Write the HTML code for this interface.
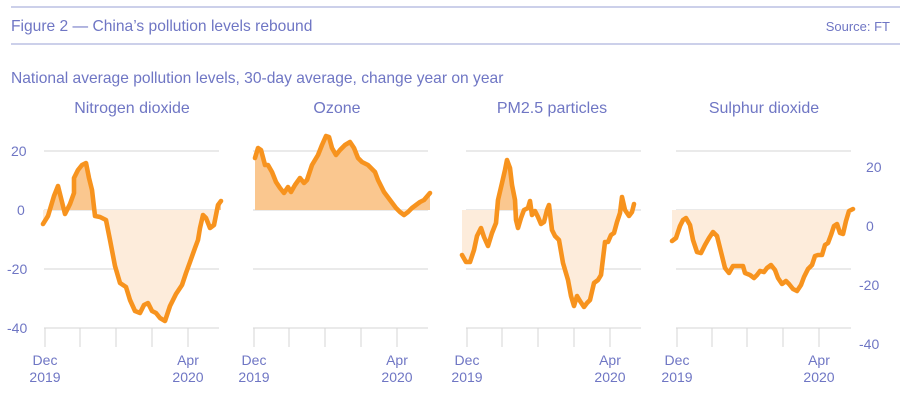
<!DOCTYPE html>
<html><head><meta charset="utf-8"><style>
body{margin:0;background:#fff;width:900px;height:404px;overflow:hidden}
svg{display:block;font-family:"Liberation Sans",sans-serif}
text{fill:#6f76c4}
</style></head><body>
<svg width="900" height="404" viewBox="0 0 900 404">
<defs>
<clipPath id="ab"><rect x="0" y="0" width="900" height="210"/></clipPath>
<clipPath id="be"><rect x="0" y="210" width="900" height="200"/></clipPath>
</defs>
<line x1="11" y1="7" x2="900" y2="7" stroke="#9aa0d6" stroke-width="1"/>
<line x1="11" y1="44" x2="900" y2="44" stroke="#9aa0d6" stroke-width="1"/>
<text x="11" y="31" font-size="15.6">Figure 2 — China’s pollution levels rebound</text>
<text x="890" y="31" font-size="13" text-anchor="end">Source: FT</text>
<text x="11" y="83" font-size="15.6">National average pollution levels, 30-day average, change year on year</text>
<g font-size="16" text-anchor="middle">
<text x="132" y="113">Nitrogen dioxide</text>
<text x="337" y="113">Ozone</text>
<text x="552" y="113">PM2.5 particles</text>
<text x="764" y="113">Sulphur dioxide</text>
</g>
<g stroke="#d6d6d6" stroke-width="1">
<line x1="44" y1="151" x2="219" y2="151"/><line x1="44" y1="210" x2="219" y2="210"/><line x1="44" y1="269" x2="219" y2="269"/><line x1="44" y1="328" x2="219" y2="328"/>
<line x1="253" y1="151" x2="428" y2="151"/><line x1="253" y1="210" x2="428" y2="210"/><line x1="253" y1="269" x2="428" y2="269"/><line x1="253" y1="328" x2="428" y2="328"/>
<line x1="466" y1="151" x2="641" y2="151"/><line x1="466" y1="210" x2="641" y2="210"/><line x1="466" y1="269" x2="641" y2="269"/><line x1="466" y1="328" x2="641" y2="328"/>
<line x1="676" y1="151" x2="851" y2="151"/><line x1="676" y1="210" x2="851" y2="210"/><line x1="676" y1="269" x2="851" y2="269"/><line x1="676" y1="328" x2="851" y2="328"/>
<path d="M45 328V347M80 328V347M116 328V347M152 328V347M188 328V347M254 328V347M289 328V347M325 328V347M361 328V347M397 328V347M467 328V347M502 328V347M538 328V347M574 328V347M610 328V347M677 328V347M712 328V347M747 328V347M783 328V347M819 328V347"/>
</g>
<g font-size="14">
<text x="11" y="156">20</text><text x="17" y="215">0</text><text x="7" y="274">-20</text><text x="7" y="333">-40</text>
<text x="866" y="172">20</text><text x="866" y="231">0</text><text x="859" y="290">-20</text><text x="859" y="349">-40</text>
</g>
<g font-size="14" text-anchor="middle">
<text x="45" y="365">Dec</text><text x="45" y="382">2019</text><text x="188" y="365">Apr</text><text x="188" y="382">2020</text>
<text x="254" y="365">Dec</text><text x="254" y="382">2019</text><text x="397" y="365">Apr</text><text x="397" y="382">2020</text>
<text x="467" y="365">Dec</text><text x="467" y="382">2019</text><text x="610" y="365">Apr</text><text x="610" y="382">2020</text>
<text x="677" y="365">Dec</text><text x="677" y="382">2019</text><text x="819" y="365">Apr</text><text x="819" y="382">2020</text>
</g>
<g id="series" fill="none" stroke="#f7931e" stroke-width="4.6" stroke-linejoin="round" stroke-linecap="round">
</g>
<script>
var S=[
[[43,224],[48,216],[51,206],[54,196],[58,186],[61,198],[65,214],[70,204],[74,193],[74,178],[78,170],[82,165],[86,163],[89,178],[92,190],[95,216],[100,217],[106,220],[110,240],[115,266],[120,283],[126,287],[130,300],[135,311],[140,313],[144,305],[148,303],[152,311],[156,313],[160,318],[165,321],[170,306],[176,294],[182,285],[186,273],[190,262],[195,248],[198,240],[200,228],[203,215],[206,218],[210,228],[214,225],[218,205],[221,201]],
[[255,158],[258,148],[261,150],[265,165],[268,165],[272,172],[276,182],[280,188],[284,193],[288,187],[291,192],[295,185],[300,178],[304,183],[307,180],[312,165],[318,155],[322,145],[326,136],[329,137],[332,148],[336,155],[340,150],[345,145],[350,142],[354,148],[358,158],[362,162],[368,165],[375,172],[378,180],[384,192],[390,200],[396,208],[400,212],[404,215],[408,212],[412,208],[416,205],[420,202],[424,200],[430,193]],
[[462,255],[466,262],[470,262],[474,250],[477,236],[481,228],[484,237],[488,246],[492,233],[496,223],[498,200],[502,183],[505,170],[507,160],[510,168],[512,185],[515,200],[516,220],[518,228],[521,218],[524,210],[528,208],[530,201],[532,215],[535,211],[538,217],[541,224],[544,222],[547,210],[549,205],[552,230],[555,236],[559,240],[563,263],[568,280],[571,296],[574,306],[577,296],[580,301],[584,307],[587,303],[590,300],[594,283],[598,280],[601,275],[605,242],[608,242],[611,235],[614,233],[617,222],[620,213],[622,197],[625,210],[629,216],[632,212],[634,204]],
[[672,241],[676,238],[680,226],[683,220],[686,218],[690,225],[693,240],[697,252],[701,253],[705,245],[709,238],[713,232],[717,236],[721,252],[725,268],[729,273],[733,266],[739,266],[743,266],[745,273],[750,275],[754,278],[757,275],[760,271],[764,272],[767,268],[771,265],[775,270],[778,278],[782,284],[786,281],[789,284],[793,289],[797,291],[801,285],[804,277],[808,269],[812,265],[815,256],[818,255],[822,255],[825,245],[828,243],[831,235],[834,226],[837,224],[840,233],[843,234],[846,221],[849,211],[853,209]]];
var NS="http://www.w3.org/2000/svg",g=document.getElementById("series"),svg=g.parentNode;
S.forEach(function(p){
 var d="M"+p.map(function(q){return q[0]+" "+q[1]}).join("L");
 var a=p[0][0],b=p[p.length-1][0];
 var fd=d+"L"+b+" 210L"+a+" 210Z";
 [["ab","#fac78f"],["be","#fdecdb"]].forEach(function(c){
  var f=document.createElementNS(NS,"path");f.setAttribute("d",fd);f.setAttribute("fill",c[1]);f.setAttribute("clip-path","url(#"+c[0]+")");svg.insertBefore(f,g);
 });
 var l=document.createElementNS(NS,"path");l.setAttribute("d",d);g.appendChild(l);
});
</script>
</svg>
</body></html>
